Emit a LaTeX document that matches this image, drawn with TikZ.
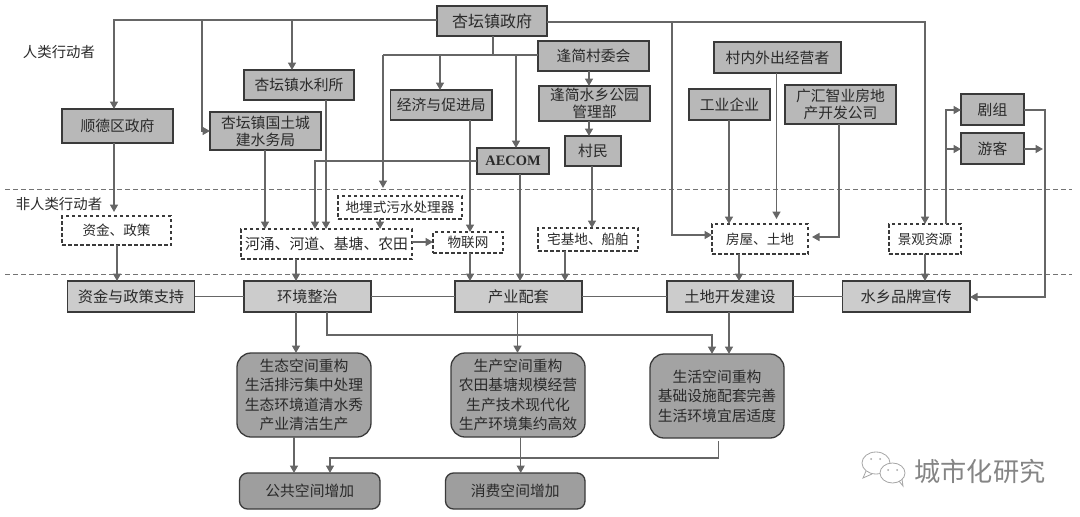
\documentclass[tikz,border=0pt]{standalone}
\usepackage{fontspec}
\setmainfont{Noto Sans CJK SC}
\newfontfamily\latfont{Liberation Serif}
\usetikzlibrary{arrows.meta,calc}
\definecolor{linegray}{HTML}{666666}
\definecolor{edgegray}{HTML}{3A3A3A}
\definecolor{inkgray}{HTML}{2A2A2A}
\newcommand\bx[7]{%
  \pgfmathsetmacro\cxx{(#3+#5)/2}\pgfmathsetmacro\cyy{(#4+#6)/2}%
  \pgfmathsetmacro\wdd{#5-#3}\pgfmathsetmacro\htt{#6-#4}%
  \node[#2,minimum width=\wdd pt,minimum height=\htt pt] (#1) at (\cxx,\cyy) {#7};}
\tikzset{
  base/.style={rectangle,inner sep=0pt,outer sep=0pt,align=center,text=inkgray,
    font=\fontsize{14.8}{17}\selectfont},
  actor/.style={base,draw=edgegray,fill=black!28,line width=1.3pt},
  thing/.style={base,draw=edgegray,fill=white,line width=1.2pt,dash pattern=on 3.5pt off 2.5pt,
    font=\fontsize{13.6}{17}\selectfont},
  stage/.style={base,draw=edgegray,fill=black!20,line width=1.3pt,font=\fontsize{15.2}{17}\selectfont},
  result/.style={base,draw=edgegray,fill=black!36,line width=1.3pt,rounded corners=14pt,
    font=\fontsize{14.8}{19.4}\selectfont},
  gain/.style={base,draw=edgegray,fill=black!38,line width=1.3pt,rounded corners=8pt},
  side/.style={inner sep=0pt,text=inkgray,font=\fontsize{14.4}{17}\selectfont},
  conn/.style={draw=linegray,line width=1.5pt},
  arr/.style={conn,-{Triangle[length=7.5pt,width=8pt]}},
  sep/.style={draw=black!55,line width=.8pt,dash pattern=on 5pt off 3pt},
}
\begin{document}
\begin{tikzpicture}[x=1pt,y=-1pt]
\useasboundingbox (0,0) rectangle (1080,517);
\fill[white] (0,0) rectangle (1080,517);
% separators
\coordinate (sepAl) at (5,189); \coordinate (sepAr) at (1072,189);
\coordinate (sepBl) at (5,274); \coordinate (sepBr) at (1072,274);
\draw[sep] (sepAl) -- (sepAr);
\draw[sep] (sepBl) -- (sepBr);
% side labels
\node[side] (humanlab) at (59,52) {人类行动者};
\node[side] (thinglab) at (59,204) {非人类行动者};
% actors
\bx{gov}{actor}{437}{6}{547}{36}{\fontsize{16}{17}\selectfont 杏坛镇政府}
\bx{vc}{actor}{538}{41}{649}{71}{逢简村委会}
\bx{park}{actor}{539}{86}{650}{121}{逢简水乡公园\\管理部}
\bx{villager}{actor}{565}{136}{621}{166}{村民}
\bx{aecom}{actor}{477}{148}{549}{174}{\latfont\bfseries\fontsize{14.4}{17}\selectfont AECOM}
\bx{econ}{actor}{390.5}{90}{492}{120}{经济与促进局}
\bx{water}{actor}{244}{70}{354}{100}{杏坛镇水利所}
\bx{land}{actor}{210}{112}{321}{150}{杏坛镇国土城\\建水务局}
\bx{shunde}{actor}{62}{109}{173}{143}{顺德区政府}
\bx{oper}{actor}{714}{42}{841}{73}{村内外出经营者}
\bx{ind}{actor}{689}{89}{770}{120}{工业企业}
\bx{gh}{actor}{785}{85}{896}{124}{广汇智业房地\\产开发公司}
\bx{crew}{actor}{961}{94}{1024}{125}{剧组}
\bx{tour}{actor}{961}{133}{1024}{164}{游客}
% non-human
\bx{fund}{thing}{62}{216}{171}{245}{资金、政策}
\bx{sewer}{thing}{338}{196}{462}{219}{地埋式污水处理器}
\bx{river}{thing}{241}{229}{412}{259}{\fontsize{14.8}{17}\selectfont 河涌、河道、基塘、农田}
\bx{iot}{thing}{433}{232}{503}{253}{物联网}
\bx{home}{thing}{538}{228}{638}{251}{宅基地、船舶}
\bx{house}{thing}{712}{224}{808}{254}{房屋、土地}
\bx{scene}{thing}{889}{224}{961}{254}{景观资源}
% stages
\bx{s1}{stage}{67.5}{281}{194.5}{312}{资金与政策支持}
\bx{s2}{stage}{244}{281}{371}{312}{环境整治}
\bx{s3}{stage}{455}{281}{582}{312}{产业配套}
\bx{s4}{stage}{667}{281}{793}{312}{土地开发建设}
\bx{s5}{stage}{842.5}{281}{970}{312}{水乡品牌宣传}
% results
\bx{eco}{result}{237}{353}{371}{437}{生态空间重构\\生活排污集中处理\\生态环境道清水秀\\产业清洁生产}
\bx{prod}{result}{451}{353}{585}{437}{生产空间重构\\农田基塘规模经营\\生产技术现代化\\生产环境集约高效}
\bx{life}{result}{650}{354}{784}{438}{生活空间重构\\基础设施配套完善\\生活环境宜居适度}
\bx{pub}{gain}{239.5}{473}{380}{509}{公共空间增加}
\bx{cons}{gain}{445.5}{473}{585}{509}{消费空间增加}
% free ends
\coordinate (tipA) at (114,212);
\coordinate (tipB) at (383,188);
\coordinate (tipC) at (776.5,219);
\coordinate (tipD) at (812,237);
\coordinate (tipE) at (1043,149);
\coordinate (busT) at (114,20);
\coordinate (busM) at (383,55);
\coordinate (busR) at (925,22);
% government fan-out
\draw[arr] (gov.west |- busT) -- (busT) -- (shunde.north -| busT);
\draw[arr] (202,0 |- busT) -- (202,0 |- land.west) -- (land.west);
\draw[arr] (292,0 |- busT) -- (292,0 |- water.north);
\draw[conn] (493,0 |- gov.south) -- (493,0 |- busM);
\draw[conn] (vc.west |- busM) -- (busM);
\draw[arr] (busM) -- (tipB);
\draw[arr] (440,0 |- busM) -- (440,0 |- econ.north);
\draw[arr] (516,0 |- busM) -- (516,0 |- aecom.north);
\draw[arr] (gov.east |- busR) -- (busR) -- (busR |- scene.north);
\draw[arr] (672,0 |- busR) -- (672,235) -- (house.west |- 0,235);
\draw[arr] (vc.south -| 589,0) -- (park.north -| 589,0);
\draw[arr] (park.south -| 589,0) -- (villager.north -| 589,0);
\draw[arr] (villager.south -| 592,0) -- (home.north -| 592,0);
% down to river etc
\draw[arr] (aecom.west) -- (315,0 |- aecom.west) -- (315,0 |- river.north);
\draw[arr] (water.south -| 326,0) -- (river.north -| 326,0);
\draw[arr] (land.south -| 265,0) -- (river.north -| 265,0);
\draw[arr] (sewer.south -| 380,0) -- (river.north -| 380,0);
\draw[arr] (river.east |- 0,242) -- (iot.west |- 0,242);
\draw[arr] (econ.south -| 470,0) -- (iot.north -| 470,0);
\draw[arr] (aecom.south -| 520,0) -- (s3.north -| 520,0);
\draw[arr] (iot.south -| 470,0) -- (s3.north -| 470,0);
\draw[arr] (home.south -| 565,0) -- (s3.north -| 565,0);
\draw[arr] (shunde.south -| tipA) -- (tipA);
\draw[arr] (fund.south -| 117,0) -- (s1.north -| 117,0);
\draw[arr] (river.south -| 296,0) -- (s2.north -| 296,0);
% right part
\draw[arr] (ind.south -| 729,0) -- (house.north -| 729,0);
\draw[arr] (oper.south -| tipC) -- (tipC);
\draw[arr] (gh.south -| 839,0) -- (839,0 |- tipD) -- (tipD);
\draw[arr] (house.south -| 739,0) -- (s4.north -| 739,0);
\draw[arr] (946,0 |- scene.north) -- (946,110) -- (crew.west |- 0,110);
\draw[arr] (946,149) -- (tour.west |- 0,149);
\draw[arr] (crew.east |- 0,110) -- (1045,110) -- (1045,297) -- (s5.east |- 0,297);
\draw[arr] (tour.east |- tipE) -- (tipE);
\draw[arr] (scene.south -| 925,0) -- (s5.north -| 925,0);
% stage bar
\draw[conn] (s1.east) -- (s2.west);
\draw[conn] (s2.east) -- (s3.west);
\draw[conn] (s3.east) -- (s4.west);
\draw[conn] (s4.east) -- (s5.west);
% lower
\draw[arr] (s2.south -| 296,0) -- (eco.north -| 296,0);
\draw[arr] (s2.south -| 327,0) -- (327,335) -- (712,335) -- (life.north -| 712,0);
\draw[arr] (s3.south -| 517.5,0) -- (prod.north -| 517.5,0);
\draw[arr] (s4.south -| 729,0) -- (life.north -| 729,0);
\draw[arr] (eco.south -| 294,0) -- (pub.north -| 294,0);
\draw[arr] (prod.south -| 520.7,0) -- (cons.north -| 520.7,0);
\draw[arr] (718.6,441) -- (718.6,458) -- (330,458) -- (pub.north -| 330,0);
% watermark
\draw[black!35,line width=.8pt,fill=white] (876,463) ellipse (14pt and 11pt);
\draw[black!35,line width=.8pt] (866,471) -- (863,478) -- (872,474);
\draw[black!35,line width=.8pt,fill=white] (892.5,473) ellipse (12.5pt and 10pt);
\draw[black!35,line width=.8pt] (899,481) -- (903,486) -- (902,479);
\fill[black!35] (871,459) circle (1pt) (880,459) circle (1pt) (888,470) circle (1pt) (897,470) circle (1pt);
\node[inner sep=0pt,text=black!48,font=\fontsize{26.2}{28}\selectfont] (mark) at (980,471) {城市化研究};
\end{tikzpicture}
\end{document}
